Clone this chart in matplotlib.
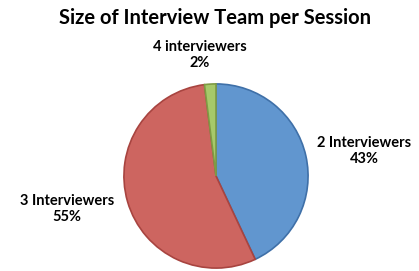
import matplotlib
matplotlib.use("Agg")
import matplotlib.pyplot as plt

# data
labels = ["2 Interviewers", "3 Interviewers", "4 interviewers"]
shares = [43, 55, 2]
colors = ["#6196CF", "#CD6560", "#A6C96A"]
edges = ["#3F70A8", "#A84440", "#7E9B44"]

plt.rcParams['font.family'] = ['Lato', 'DejaVu Sans']

W, H = 419, 271
fig = plt.figure(figsize=(W / 100, H / 100), dpi=100)

# pie axes: centre ~ (216, 176) px, radius ~ 93 px
cx, cy, r = 216, 176, 93
ax = fig.add_axes([(cx - r) / W, (H - cy - r) / H, 2 * r / W, 2 * r / H])
wedges, _ = ax.pie(shares, colors=colors, startangle=90, counterclock=False,
                   wedgeprops=dict(linewidth=1.2))
for w, ec in zip(wedges, edges):
    w.set_edgecolor(ec)
ax.set_aspect('equal')
ax.set_xlim(-1.01, 1.01)
ax.set_ylim(-1.01, 1.01)

fig.text(215 / W, 1 - 18 / H, "Size of Interview Team per Session",
         ha='center', va='center', fontsize=14.5, fontweight='bold')

# data labels (pixel positions of the label centres)
label_pos = [(364, 151), (67, 209), (200, 55)]
for lab, v, (x, y) in zip(labels, shares, label_pos):
    fig.text(x / W, 1 - y / H, f"{lab}\n{v}%", ha='center', va='center',
             fontsize=10.5, fontweight='bold', linespacing=1.2)

fig.savefig("out.png", dpi=100)
